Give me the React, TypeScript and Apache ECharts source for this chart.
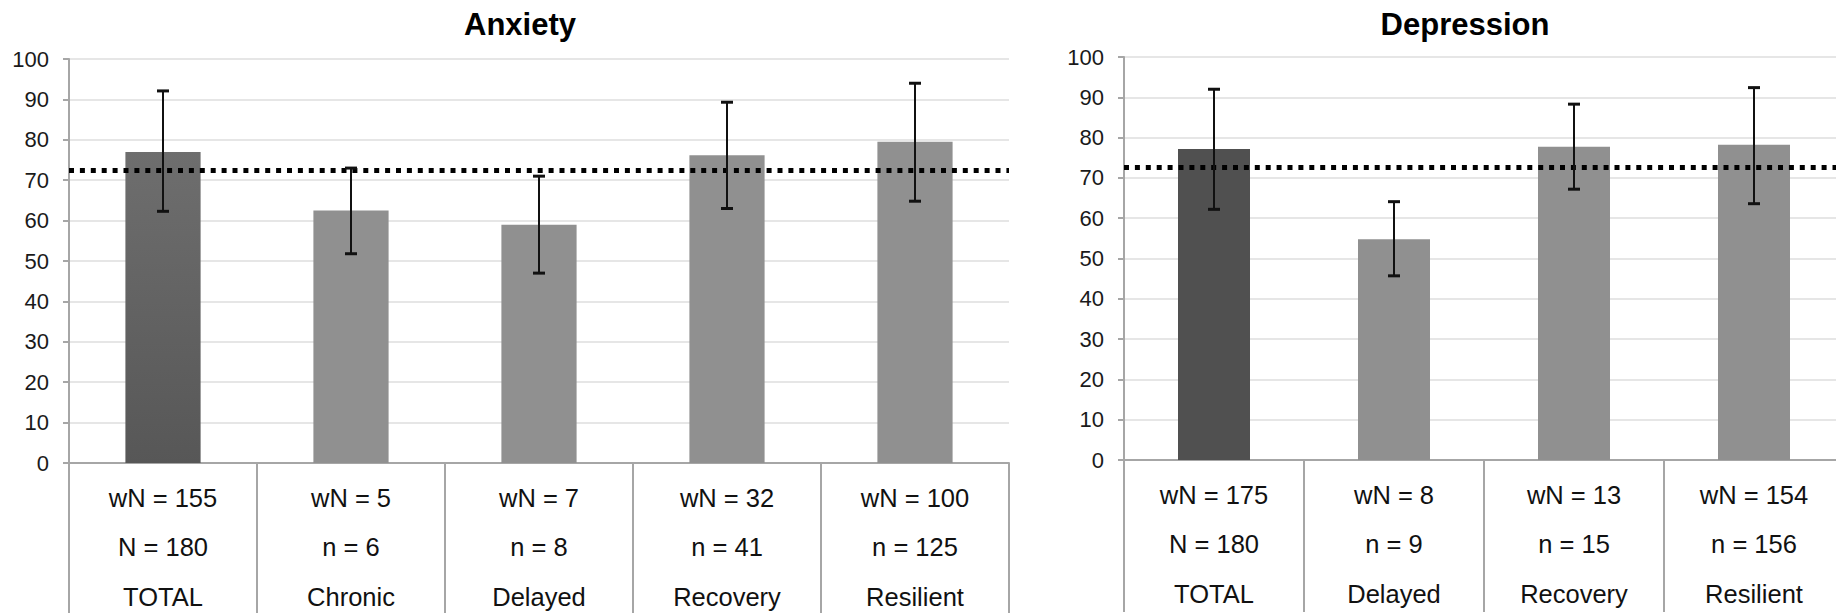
import React, { useEffect, useRef } from "react";
import * as echarts from "echarts";

// ---- Data ----
const anxietyCategories = ["TOTAL", "Chronic", "Delayed", "Recovery", "Resilient"];
const anxietyWN = [155, 5, 7, 32, 100];
const anxietyN = [180, 6, 8, 41, 125];
const anxietyMean = [77.0, 62.5, 59.0, 76.2, 79.5];
const anxietyHigh = [92.1, 73.0, 71.0, 89.3, 94.0];
const anxietyLow = [62.3, 51.8, 47.0, 63.0, 64.8];
const anxietyCutoff = 72.5;

const depressionCategories = ["TOTAL", "Delayed", "Recovery", "Resilient"];
const depressionWN = [175, 8, 13, 154];
const depressionN = [180, 9, 15, 156];
const depressionMean = [77.2, 54.8, 77.7, 78.2];
const depressionHigh = [92.0, 64.1, 88.3, 92.4];
const depressionLow = [62.2, 45.7, 67.2, 63.6];
const depressionCutoff = 72.6;

const titles = ["Anxiety", "Depression"];
const yTicks = { min: 0, max: 100, interval: 10 };

const FONT = "'Liberation Sans', Arial, Helvetica, sans-serif";
const GRID_COLOR = "#e6e6e6";
const AXIS_COLOR = "#a6a6a6";
const BAR_COLOR = "#909090";

function xLabel(cats: string[], wn: number[], n: number[]) {
  return (value: string, idx: number) => {
    const nLabel = value === "TOTAL" ? "N" : "n";
    return `wN = ${wn[idx]}\n${nLabel} = ${n[idx]}\n${value}`;
  };
}

function errorRender(params: any, api: any) {
  const x = api.value(0);
  const lo = api.coord([x, api.value(1)]);
  const hi = api.coord([x, api.value(2)]);
  const cap = 6;
  return {
    type: "group",
    children: [
      { type: "line", shape: { x1: hi[0], y1: hi[1], x2: lo[0], y2: lo[1] }, style: { stroke: "#111", lineWidth: 2 } },
      { type: "line", shape: { x1: hi[0] - cap, y1: hi[1], x2: hi[0] + cap, y2: hi[1] }, style: { stroke: "#111", lineWidth: 3 } },
      { type: "line", shape: { x1: lo[0] - cap, y1: lo[1], x2: lo[0] + cap, y2: lo[1] }, style: { stroke: "#111", lineWidth: 3 } },
    ],
  };
}

function xAxisCfg(gridIndex: number, cats: string[], wn: number[], n: number[]) {
  return {
    type: "category",
    gridIndex,
    data: cats,
    boundaryGap: true,
    axisLine: { show: true, lineStyle: { color: AXIS_COLOR, width: 2 } },
    axisTick: { show: true, interval: 0, length: 152, lineStyle: { color: AXIS_COLOR, width: 2 } },
    axisLabel: {
      interval: 0,
      margin: 10,
      color: "#111",
      fontFamily: FONT,
      fontSize: 25.5,
      lineHeight: 49.5,
      formatter: xLabel(cats, wn, n),
    },
    splitLine: { show: false },
  };
}

function yAxisCfg(gridIndex: number) {
  return {
    type: "value",
    gridIndex,
    min: yTicks.min,
    max: yTicks.max,
    interval: yTicks.interval,
    axisLine: { show: true, lineStyle: { color: AXIS_COLOR, width: 2 } },
    axisTick: { show: true, length: 6, lineStyle: { color: AXIS_COLOR, width: 2 } },
    axisLabel: { color: "#1a1a1a", fontFamily: FONT, fontSize: 22, margin: 20 },
    splitLine: { show: true, lineStyle: { color: GRID_COLOR, width: 2 } },
  };
}

function barSeries(idx: number, mean: number[], totalColor: any, cutoff: number) {
  return {
    type: "bar",
    xAxisIndex: idx,
    yAxisIndex: idx,
    barWidth: "40%",
    data: mean.map((v, i) => ({ value: v, itemStyle: { color: i === 0 ? totalColor : BAR_COLOR } })),
    markLine: {
      silent: true,
      symbol: "none",
      label: { show: false },
      lineStyle: { color: "#000", width: 5, type: [5, 5.9], cap: "butt" },
      data: [{ yAxis: cutoff }],
    },
    z: 2,
  };
}

function errSeries(idx: number, low: number[], high: number[]) {
  return {
    type: "custom",
    xAxisIndex: idx,
    yAxisIndex: idx,
    renderItem: errorRender,
    data: low.map((l, i) => [i, l, high[i]]),
    z: 5,
  };
}

export default function App() {
  const ref = useRef<HTMLDivElement>(null);
  useEffect(() => {
    if (!ref.current) return;
    const chart = echarts.init(ref.current, undefined, { renderer: "svg" });
    const anxTotal = new echarts.graphic.LinearGradient(0, 0, 0, 1, [
      { offset: 0, color: "#6e6e6e" },
      { offset: 1, color: "#575757" },
    ]);
    const titleStyle = { fontFamily: FONT, fontSize: 31, fontWeight: "bold", color: "#000" };
    chart.setOption({
      animation: false,
      backgroundColor: "#fff",
      title: [
        { text: titles[0], left: 515, top: 4, textAlign: "center", textStyle: titleStyle },
        { text: titles[1], left: 1460, top: 4, textAlign: "center", textStyle: titleStyle },
      ],
      grid: [
        { left: 69, top: 59, width: 940, height: 404, containLabel: false, outerBoundsMode: "none" },
        { left: 1124, top: 57, width: 720, height: 403, containLabel: false, outerBoundsMode: "none" },
      ],
      xAxis: [
        xAxisCfg(0, anxietyCategories, anxietyWN, anxietyN),
        xAxisCfg(1, depressionCategories, depressionWN, depressionN),
      ],
      yAxis: [yAxisCfg(0), yAxisCfg(1)],
      series: [
        barSeries(0, anxietyMean, anxTotal, anxietyCutoff),
        errSeries(0, anxietyLow, anxietyHigh),
        barSeries(1, depressionMean, "#505050", depressionCutoff),
        errSeries(1, depressionLow, depressionHigh),
      ],
    });
    return () => chart.dispose();
  }, []);
  return (
    <div
      style={{
        position: "fixed",
        left: 0,
        top: 0,
        width: 1836,
        height: 613,
        overflow: "hidden",
        background: "#fff",
      }}
    >
      <div ref={ref} style={{ width: 1856, height: 613 }} />
    </div>
  );
}
